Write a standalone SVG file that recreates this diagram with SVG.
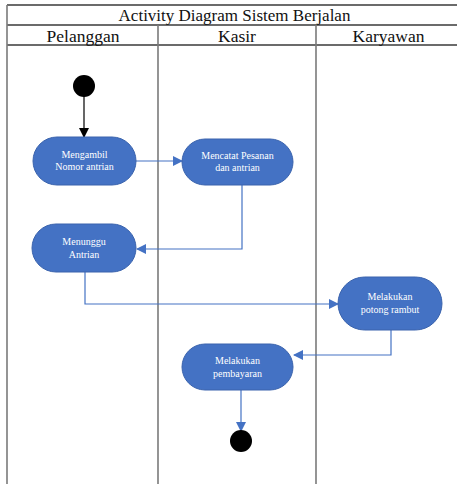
<svg xmlns="http://www.w3.org/2000/svg" width="457" height="484" viewBox="0 0 457 484">
<style>
.hl{stroke:#3a3a3a;stroke-width:1.3}
.vl{stroke:#7a7a7a;stroke-width:1.6}
.hd{font-family:'Liberation Serif','Times New Roman',serif;font-size:17.5px;fill:#111;text-anchor:middle}
.node rect{fill:#4472C4;stroke:#3A63AD;stroke-width:1}
.node text{font-family:'Liberation Serif','Times New Roman',serif;font-size:10px;fill:#fff;text-anchor:middle}
.c{fill:none;stroke:#4472C4;stroke-width:1.2}
</style>
<defs>
<marker id="ab" markerWidth="10" markerHeight="10" refX="9" refY="5" orient="auto" markerUnits="userSpaceOnUse"><path d="M0,0 L10,5 L0,10 z" fill="#4472C4"/></marker>
<marker id="ak" markerWidth="10" markerHeight="10" refX="9" refY="5" orient="auto" markerUnits="userSpaceOnUse"><path d="M0,0 L10,5 L0,10 z" fill="#000"/></marker>
</defs>
<rect width="457" height="484" fill="#fff"/>
<g id="frame">
<line class="hl" x1="7" y1="5" x2="457" y2="5"/>
<line class="hl" x1="7" y1="25" x2="457" y2="25"/>
<line class="hl" x1="7" y1="45" x2="457" y2="45"/>
<line class="vl" x1="7" y1="5" x2="7" y2="484"/>
<line class="vl" x1="158" y1="25" x2="158" y2="484"/>
<line class="vl" x1="316" y1="25" x2="316" y2="484"/>
<text class="hd" x="234.5" y="21" style="font-size:17px">Activity Diagram Sistem Berjalan</text>
<text class="hd" x="83" y="42">Pelanggan</text>
<text class="hd" x="237" y="42">Kasir</text>
<text class="hd" x="388.5" y="42">Karyawan</text>
</g>
<g id="connectors">
<line x1="84" y1="96" x2="84" y2="137" stroke="#000" stroke-width="1.2" marker-end="url(#ak)"/>
<path class="c" d="M136,161 H182" marker-end="url(#ab)"/>
<path class="c" d="M242,185 V249 H137" marker-end="url(#ab)"/>
<path class="c" d="M85,272 V304 H338" marker-end="url(#ab)"/>
<path class="c" d="M391,330 V355 H294" marker-end="url(#ab)"/>
<path class="c" d="M241,390 V431" marker-end="url(#ab)"/>
</g>
<g id="start"><circle cx="84" cy="86" r="11" fill="#000"/></g>
<g id="n1" class="node"><rect x="33" y="137" width="103" height="48" rx="24"/><text x="84.5" y="158">Mengambil</text><text x="84.5" y="170">Nomor antrian</text></g>
<g id="n2" class="node"><rect x="182" y="139" width="111" height="46" rx="23"/><text x="237.5" y="159">Mencatat Pesanan</text><text x="237.5" y="171">dan antrian</text></g>
<g id="n3" class="node"><rect x="32" y="224" width="104" height="48" rx="24"/><text x="84" y="245">Menunggu</text><text x="84" y="258">Antrian</text></g>
<g id="n4" class="node"><rect x="338" y="277" width="104" height="53" rx="26.5"/><text x="390" y="300">Melakukan</text><text x="390" y="313">potong rambut</text></g>
<g id="n5" class="node"><rect x="182" y="344" width="111" height="46" rx="23"/><text x="237.5" y="364">Melakukan</text><text x="237.5" y="377">pembayaran</text></g>
<g id="end"><circle cx="241" cy="441" r="11" fill="#000"/></g>
</svg>
